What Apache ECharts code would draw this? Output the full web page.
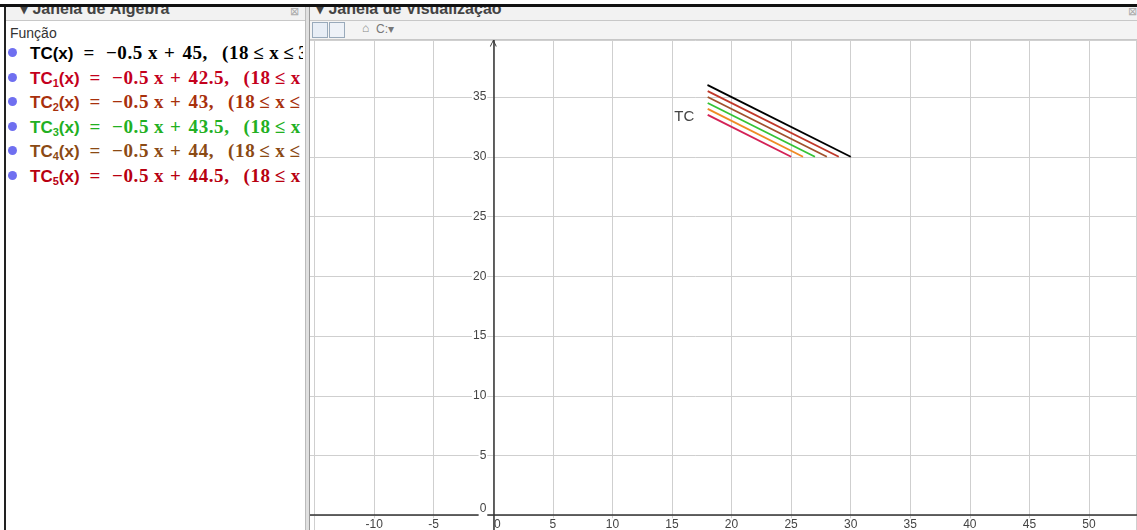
<!DOCTYPE html>
<html>
<head>
<meta charset="utf-8">
<script src="https://cdn.jsdelivr.net/npm/echarts@6/dist/echarts.min.js"></script>
<style>
html,body{margin:0;padding:0;width:1137px;height:530px;overflow:hidden;background:#fff;font-family:"Liberation Sans",Arial,sans-serif;}
#chart{position:absolute;left:0;top:0;width:1137px;height:530px;}
.topline{position:absolute;left:0;top:4px;width:1137px;height:3px;background:#111;z-index:5;}
#left{position:absolute;left:0;top:0;width:305px;height:530px;background:#fff;z-index:3;}
#leftborder{position:absolute;left:4px;top:4px;width:2px;height:526px;background:#222;z-index:4;}
.hdr{position:absolute;top:7px;height:13px;overflow:hidden;background:#f2f2f2;border-bottom:1px solid #c8c8c8;z-index:3;}
.hdr span.t{position:absolute;top:-8px;font-size:16px;font-weight:bold;color:#444;white-space:nowrap;}
.hdr span.c{position:absolute;top:-2px;font-size:11px;color:#aaa;}
#divider{position:absolute;left:305px;top:7px;width:3px;height:523px;background:#e0e0e0;border-left:1px solid #bbb;border-right:1px solid #999;z-index:3;}
#toolbar{position:absolute;left:310px;top:21px;width:827px;height:18px;background:#f4f4f4;border-bottom:1px solid #c8c8c8;z-index:3;}
.btn{position:absolute;top:1px;width:14px;height:14px;border:1px solid #9ab;background:#e8eef6;}
.func{position:absolute;left:10px;top:25px;font-size:14px;color:#333;}
#rows{position:absolute;left:0;top:0;width:303px;height:530px;overflow:hidden;z-index:3;}
.row{position:absolute;left:8px;height:24px;white-space:nowrap;font-weight:bold;}
.dot{display:inline-block;width:9px;height:9px;border-radius:50%;background:#6f6ff0;margin-right:13px;position:relative;top:-2px;}
.nm{font-family:"Liberation Sans",Arial,sans-serif;font-size:17px;}
.mt{font-family:"Liberation Serif","DejaVu Serif",serif;font-size:19px;letter-spacing:0.6px;}
sub{font-size:11px;vertical-align:-3px;}
</style>
</head>
<body>
<div id="chart"></div>
<div id="left">
  <div class="func">Função</div>
</div>
<div id="rows"></div>
<div id="leftborder"></div>
<div class="topline"></div>
<div class="hdr" style="left:6px;width:299px;"><span class="t" style="left:14px;">▾ Janela de Álgebra</span><span class="c" style="left:284px;">⊠</span></div>
<div class="hdr" style="left:310px;width:827px;"><span class="t" style="left:6px;">▾ Janela de Visualização</span><span class="c" style="left:818px;">⊠</span></div>
<div id="divider"></div>
<div id="toolbar">
  <div class="btn" style="left:2px;"></div>
  <div class="btn" style="left:19px;background:#eef2f8;"></div>
  <div style="position:absolute;left:52px;top:0px;font-size:12px;color:#888;">⌂</div>
  <div style="position:absolute;left:66px;top:1px;font-size:12px;color:#777;">C:▾</div>
</div>
<script>
// ---- data ----
const names      = ['TC', 'TC1', 'TC2', 'TC3', 'TC4', 'TC5'];
const slope      = -0.5;
const intercepts = [45, 42.5, 43, 43.5, 44, 44.5];
const xStart     = [18, 18, 18, 18, 18, 18];
const xEnd       = [30, 25, 26, 27, 28, 29];
const lineColors = ['#000000', '#d42256', '#f08a24', '#35c435', '#a0522d', '#c0392b'];
const textColors = ['#000000', '#c4001c', '#a8300c', '#22b022', '#8b4a14', '#b80010'];
const xTicks = [-10, -5, 0, 5, 10, 15, 20, 25, 30, 35, 40, 45, 50];
const yTicks = [0, 5, 10, 15, 20, 25, 30, 35];

// ---- algebra rows ----
const rowsEl = document.getElementById('rows');
names.forEach((n, i) => {
  const d = document.createElement('div');
  d.className = 'row';
  d.style.top = (42 + i * 24.6) + 'px';
  d.style.color = textColors[i];
  const sub = n.length > 2 ? 'TC<sub>' + n.slice(2) + '</sub>' : 'TC';
  const b = intercepts[i];
  d.innerHTML = '<span class="dot"></span><span class="nm">' + sub + '(x)</span>' +
    '<span class="mt"><span style="margin-left:10px">=</span><span style="margin-left:11px">−0.5</span>' +
    '<span style="margin-left:5px">x</span><span style="margin-left:6px">+</span>' +
    '<span style="margin-left:7px">' + b + ',</span><span style="margin-left:14px">(18</span>' +
    '<span style="margin-left:4px">≤</span><span style="margin-left:5px">x</span><span style="margin-left:4px">≤</span><span style="margin-left:4px">30)</span></span>';
  rowsEl.appendChild(d);
});

// ---- chart ----
const chart = echarts.init(document.getElementById('chart'), null, {renderer: 'canvas'});
const GRID = {left: 255, top: 40, width: 881.6, height: 535};
const X0PX = 493.3, Y0PX = 515.2;
const series = names.map((n, i) => {
  const f = x => slope * x + intercepts[i];
  const data = [[xStart[i], f(xStart[i])], [xEnd[i], f(xEnd[i])]];
  const obj = {
    type: 'line', name: n, data: data, symbol: 'none',
    lineStyle: {color: lineColors[i], width: 1.9},
    z: 10 - i, animation: false
  };
  if (i === 0) {
    obj.symbol = 'circle';
    obj.symbolSize = 1;
    obj.showSymbol = true;
    obj.itemStyle = {color: lineColors[0]};
    obj.data = [{value: data[0], label: {show: true, formatter: 'TC', position: 'left', offset: [-8, 32], fontSize: 15, color: '#444', fontFamily: 'Liberation Sans, Arial'}}, data[1]];
  }
  return obj;
});

const lblStyle = {fontSize: 12, color: '#444', fontFamily: 'Liberation Sans, Arial'};
chart.setOption({
  animation: false,
  grid: Object.assign({containLabel: false, outerBoundsMode: 'none'}, GRID),
  xAxis: {
    type: 'value', min: -20, max: 54, interval: 5,
    position: 'bottom', offset: -(GRID.top + GRID.height - Y0PX),
    axisLine: {onZero: false, lineStyle: {color: '#333', width: 1.5}},
    axisTick: {show: false},
    splitLine: {show: true, lineStyle: {color: '#cfcfcf', width: 1}},
    axisLabel: Object.assign({
      margin: 3, showMaxLabel: false, showMinLabel: false,
      formatter: v => xTicks.indexOf(v) < 0 ? '' : (v === 0 ? '{z|0}' : '{n|' + v + '}'),
      rich: {
        z: Object.assign({padding: [0, 0, 0, 8]}, lblStyle),
        n: Object.assign({backgroundColor: '#fff', padding: [0, 1]}, lblStyle)
      }
    }, lblStyle)
  },
  yAxis: {
    type: 'value', min: -5, max: 39.77, interval: 5,
    position: 'left', offset: -(X0PX - GRID.left),
    axisLine: {onZero: false, symbol: ['none', 'path://M0,10 L5,0 L10,10 L8.6,10 L5,2.6 L1.4,10 Z'], symbolSize: [8, 7], symbolOffset: [0, -3], lineStyle: {color: '#333', width: 1.5}},
    axisTick: {show: false},
    splitLine: {show: true, lineStyle: {color: '#cfcfcf', width: 1}},
    axisLabel: Object.assign({
      margin: 6, showMaxLabel: false, showMinLabel: false, backgroundColor: '#fff', padding: [0, 1],
      formatter: v => yTicks.indexOf(v) < 0 ? '' : (v === 0 ? '{z|0}' : String(v)),
      rich: {z: Object.assign({padding: [0, 0, 14, 0]}, lblStyle)}
    }, lblStyle)
  },
  series: series
});
</script>
</body>
</html>
